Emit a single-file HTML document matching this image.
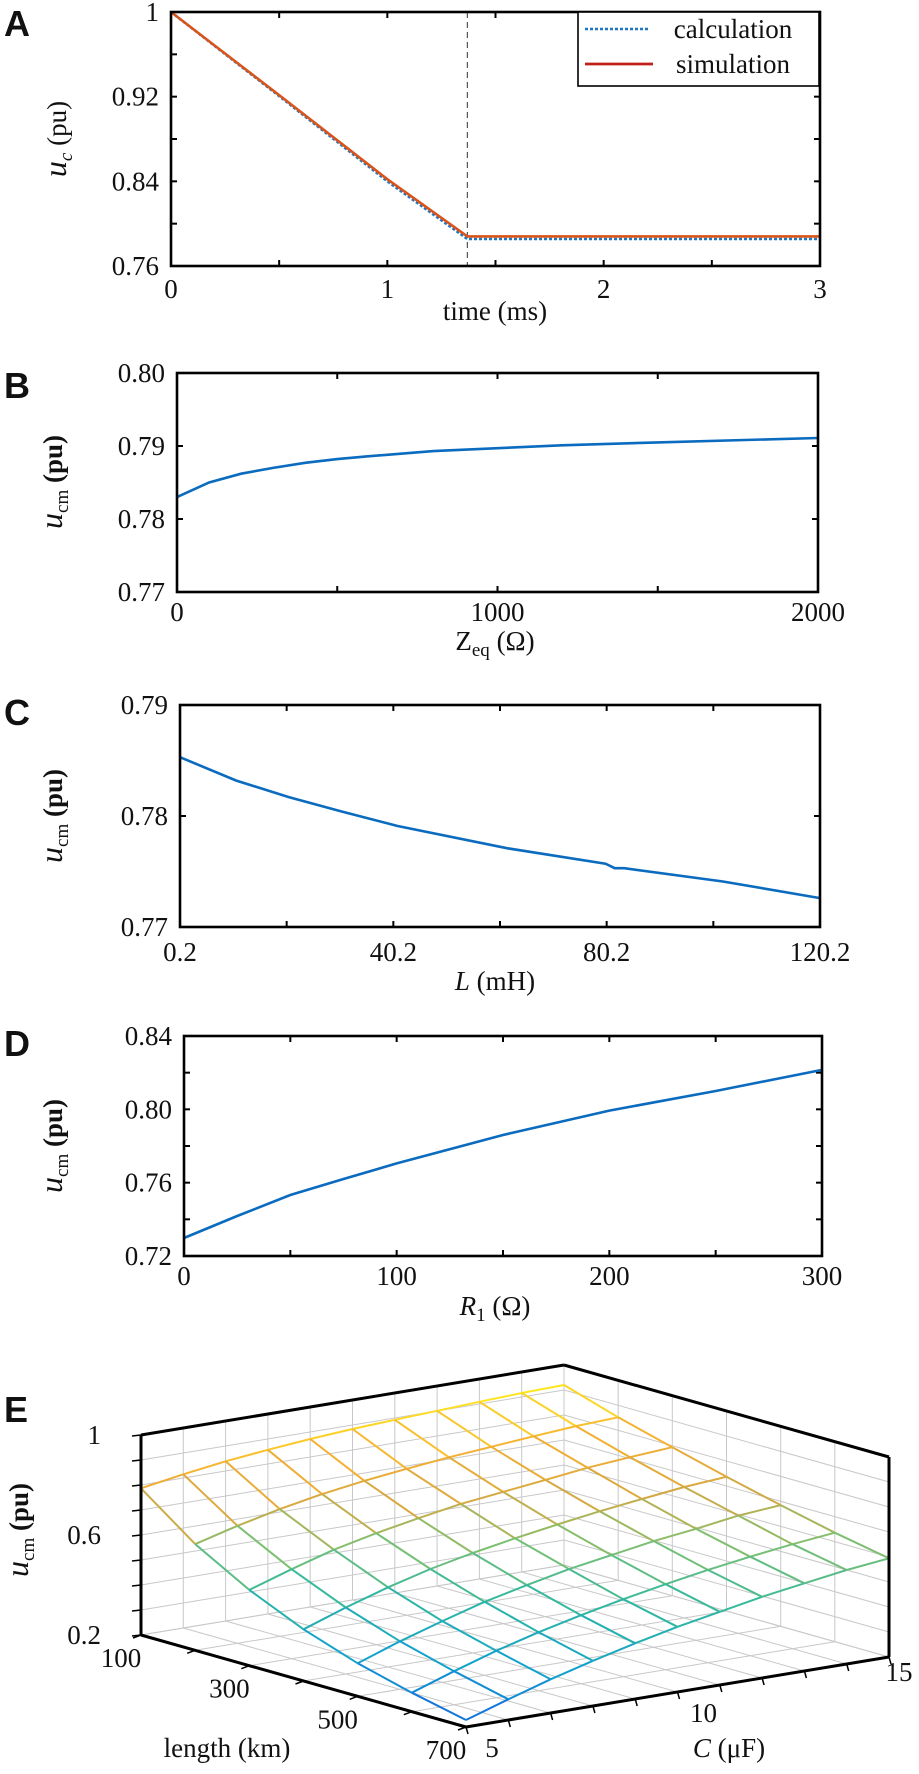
<!DOCTYPE html>
<html><head><meta charset="utf-8"><style>
body{margin:0;background:#fff}
svg text{font-family:"Liberation Serif",serif;fill:#111}
.pl{font-family:"Liberation Sans",sans-serif;font-weight:bold;font-size:36px}
</style></head><body>
<svg id="fig" width="919" height="1769" viewBox="0 0 919 1769" xmlns="http://www.w3.org/2000/svg"></svg>
<script>
// ---- Panel A data ----
const aTime=[0,0.5,1,1.37,3];
const aCalc=[1,0.9205,0.8400,0.7855,0.7855];
const aSim=[1,0.9215,0.8420,0.788,0.788];
const aXTicks=[0,1,2,3];
const aYTicks=[0.76,0.84,0.92,1];
// ---- Panel B data ----
const bX=[0,100,200,300,400,500,600,800,1000,1200,1500,2000];
const bY=[0.783,0.785,0.7862,0.787,0.7877,0.7882,0.7886,0.7893,0.7897,0.7901,0.7905,0.7911];
const bXTicks=[0,1000,2000];
const bYTicks=[0.77,0.78,0.79,0.80];
// ---- Panel C data ----
const cX=[0.2,10.7,20.6,30.6,41.0,61.5,80.0,81.7,83.5,102,120.2];
const cY=[0.7853,0.7832,0.7817,0.7804,0.7791,0.7771,0.7757,0.7753,0.7753,0.7741,0.7726];
const cXTicks=[0.2,40.2,80.2,120.2];
const cYTicks=[0.77,0.78,0.79];
// ---- Panel D data ----
const dX=[0,25,50,75,100,150,200,250,300];
const dY=[0.7298,0.7418,0.7533,0.762,0.7705,0.786,0.7993,0.810,0.8215];
const dXTicks=[0,100,200,300];
const dYTicks=[0.72,0.76,0.80,0.84];
// ---- Panel E data ----
const eLength=[100,200,300,400,500,600,700];
const eC=[5,6,7,8,9,10,11,12,13,14,15];
const eZ=[
[.787,.815,.839,.857,.872,.884,.893,.901,.909,.916,.920],
[.625,.670,.709,.741,.766,.786,.804,.818,.832,.845,.852],
[.503,.558,.608,.646,.678,.707,.727,.747,.768,.782,.794],
[.407,.466,.519,.564,.600,.631,.658,.683,.704,.724,.737],
[.332,.392,.445,.494,.533,.569,.597,.625,.646,.671,.685],
[.276,.334,.388,.434,.474,.510,.542,.571,.596,.618,.636],
[.228,.283,.335,.381,.423,.461,.493,.525,.551,.576,.595]];
const eZTicks=[0.2,0.6,1];
const eLTicks=[100,300,500,700];
const eCTicks=[5,10,15];

const NS="http://www.w3.org/2000/svg";
const svg=document.getElementById('fig');
function mk(tag,attrs,parent){const e=document.createElementNS(NS,tag);for(const k in attrs)e.setAttribute(k,attrs[k]);(parent||svg).appendChild(e);return e;}
function txt(s,x,y,size,anchor,parent){const t=mk('text',{x:x,y:y,'font-size':size,'text-anchor':anchor||'middle'},parent);t.textContent=s;return t;}
function lin(d0,d1,r0,r1){return v=>r0+(v-d0)/(d1-d0)*(r1-r0);}

function panel(opt){
  const g=mk('g',{});
  
  
  const X=lin(opt.xd[0],opt.xd[1],opt.L,opt.R), Y=lin(opt.yd[0],opt.yd[1],opt.B,opt.T);
  opt.xt.forEach(v=>{const x=X(v);mk('line',{x1:x,x2:x,y1:opt.B,y2:opt.B-6,stroke:'#000','stroke-width':2},g);mk('line',{x1:x,x2:x,y1:opt.T,y2:opt.T+6,stroke:'#000','stroke-width':2},g);});
  opt.yt.forEach(v=>{const y=Y(v);mk('line',{x1:opt.L,x2:opt.L+6,y1:y,y2:y,stroke:'#000','stroke-width':2},g);mk('line',{x1:opt.R,x2:opt.R-6,y1:y,y2:y,stroke:'#000','stroke-width':2},g);});
  opt.xl.forEach((v,i)=>{const t=txt(opt.xls?opt.xls[i]:String(v),X(v),opt.xly,27,'middle',g);});
  opt.yl.forEach((v,i)=>{const t=txt(opt.yls[i],opt.L-12,Y(v)+9,27,'end',g);});
  return {g,X,Y};
}
function path(X,Y,xs,ys){return xs.map((x,i)=>(i?'L':'M')+X(x).toFixed(1)+','+Y(ys[i]).toFixed(1)).join('');}
function box(g,o){const r=mk('rect',{x:o.L,y:o.T,width:o.R-o.L,height:o.B-o.T,fill:'none',stroke:'#000','stroke-width':2.6},g);}
function ytitle(g,main,sub,cx,cy,bold){const t=mk('text',{transform:`translate(${cx},${cy}) rotate(-90)`,'text-anchor':'middle','font-size':27},g);
  
  t.innerHTML=`<tspan font-style="italic" font-size="32">u</tspan><tspan font-size="19" dy="6"${sub=='c'?' font-style="italic"':''}>${sub}</tspan><tspan dy="-6"${bold?' font-weight="bold"':''}> (pu)</tspan>`;}
function plabel(s,x,y){const t=mk('text',{x:x,y:y,class:'pl'});t.textContent=s;}

// ---- A ----
{const o={name:'panel-a',L:171,R:820,T:12,B:266,xd:[0,3],yd:[0.76,1],xt:[0.5,1,1.5,2,2.5],yt:[0.8,0.84,0.88,0.92,0.96],xl:aXTicks,yl:aYTicks,yls:['0.76','0.84','0.92','1'],xly:298};
 const p=panel(o);
 const dl=mk('line',{x1:p.X(1.37),x2:p.X(1.37),y1:o.T,y2:o.B,stroke:'#555','stroke-width':1.2,'stroke-dasharray':'6,4'},p.g);
 
 const c=mk('path',{d:path(p.X,p.Y,aTime,aCalc),fill:'none',stroke:'#1f77c4','stroke-width':2.6,'stroke-dasharray':'3,2'},p.g);
 
 const s=mk('path',{d:path(p.X,p.Y,aTime,aSim),fill:'none',stroke:'#d9541a','stroke-width':2.6},p.g);
 
 box(p.g,o);
 const lg=mk('g',{},p.g);
 mk('rect',{x:578,y:12,width:241,height:74,fill:'#fff',stroke:'#000','stroke-width':1.6},lg);
 mk('line',{x1:585,x2:648,y1:29,y2:29,stroke:'#1f77c4','stroke-width':2.6,'stroke-dasharray':'3,2'},lg);
 mk('line',{x1:585,x2:653,y1:64,y2:64,stroke:'#c0201a','stroke-width':2.8},lg);
 txt('calculation',733,38,27,'middle',lg);txt('simulation',733,73,27,'middle',lg);
 ytitle(p.g,'u','c',66,139,false);
 const xt=txt('time (ms)',495,320,27,'middle',p.g);
 plabel('A',4,36);}
// ---- B ----
{const o={name:'panel-b',L:177,R:818,T:373,B:592,xd:[0,2000],yd:[0.77,0.80],xt:[500,1000,1500],yt:[0.78,0.79],xl:bXTicks,yl:bYTicks,yls:['0.77','0.78','0.79','0.80'],xly:621};
 const p=panel(o);
 const l=mk('path',{d:path(p.X,p.Y,bX,bY),fill:'none',stroke:'#0b6bbf','stroke-width':2.6},p.g);
 box(p.g,o);ytitle(p.g,'u','cm',62,482,true);
 const t=mk('text',{x:495,y:650,'text-anchor':'middle','font-size':27},p.g);
 t.innerHTML='Z<tspan font-size="19" dy="6">eq</tspan><tspan dy="-6"> (Ω)</tspan>';
 plabel('B',4,398);}
// ---- C ----
{const o={name:'panel-c',L:180,R:820,T:705,B:927,xd:[0.2,120.2],yd:[0.77,0.79],xt:[20.2,40.2,60.2,80.2,100.2],yt:[0.78],xl:cXTicks,xls:['0.2','40.2','80.2','120.2'],yl:cYTicks,yls:['0.77','0.78','0.79'],xly:961};
 const p=panel(o);
 const l=mk('path',{d:path(p.X,p.Y,cX,cY),fill:'none',stroke:'#0b6bbf','stroke-width':2.6},p.g);
 box(p.g,o);ytitle(p.g,'u','cm',62,816,true);
 const t=mk('text',{x:495,y:990,'text-anchor':'middle','font-size':27},p.g);
 t.innerHTML='<tspan font-style="italic">L</tspan> (mH)';
 plabel('C',4,725);}
// ---- D ----
{const o={name:'panel-d',L:184,R:822,T:1036,B:1256,xd:[0,300],yd:[0.72,0.84],xt:[50,100,150,200,250],yt:[0.74,0.76,0.78,0.80,0.82],xl:dXTicks,yl:dYTicks,yls:['0.72','0.76','0.80','0.84'],xly:1285};
 const p=panel(o);
 const l=mk('path',{d:path(p.X,p.Y,dX,dY),fill:'none',stroke:'#0b6bbf','stroke-width':2.6},p.g);
 box(p.g,o);ytitle(p.g,'u','cm',62,1146,true);
 const t=mk('text',{x:495,y:1315,'text-anchor':'middle','font-size':27},p.g);
 t.innerHTML='<tspan font-style="italic">R</tspan><tspan font-size="19" dy="6">1</tspan><tspan dy="-6"> (Ω)</tspan>';
 plabel('D',4,1056);}
// ---- E (3D surface) ----
{const g=mk('g',{});
 const P0=[141,1635],LV=[325,92],CV=[423,-70],ZS=250;
 function P(L,C,z){const a=(L-100)/600,b=(C-5)/10;return [P0[0]+a*LV[0]+b*CV[0],P0[1]+a*LV[1]+b*CV[1]-(z-0.2)*ZS];}
 function seg(p,q,col,w,par){return mk('line',{x1:p[0].toFixed(1),y1:p[1].toFixed(1),x2:q[0].toFixed(1),y2:q[1].toFixed(1),stroke:col,'stroke-width':w},par||g);}
 const gr=mk('g',{},g);
 for(let z=0.2;z<=1.0001;z+=0.1){seg(P(100,5,z),P(100,15,z),'#c8c8c8',1,gr);seg(P(100,15,z),P(700,15,z),'#c8c8c8',1,gr);}
 for(let c=5;c<=15;c++){seg(P(100,c,0.2),P(100,c,1),'#c8c8c8',1,gr);seg(P(100,c,0.2),P(700,c,0.2),'#c8c8c8',1,gr);}
 for(let L=100;L<=700;L+=100){seg(P(L,15,0.2),P(L,15,1),'#c8c8c8',1,gr);seg(P(L,5,0.2),P(L,15,0.2),'#c8c8c8',1,gr);}
 const stops=[[0.2,[21,96,224]],[0.35,[16,160,208]],[0.5,[48,184,160]],[0.62,[128,192,112]],[0.72,[216,168,64]],[0.82,[245,176,48]],[0.92,[255,232,32]]];
 function col(z){if(z<=stops[0][0])return 'rgb('+stops[0][1]+')';for(let i=1;i<stops.length;i++){if(z<=stops[i][0]){const t=(z-stops[i-1][0])/(stops[i][0]-stops[i-1][0]);const a=stops[i-1][1],b=stops[i][1];return `rgb(${a.map((v,k)=>Math.round(v+(b[k]-v)*t))})`;}}return 'rgb('+stops[stops.length-1][1]+')';}
 const sg=mk('g',{},g);
 for(let j=0;j<eLength.length;j++)for(let i=0;i<eC.length;i++){
   if(i+1<eC.length){const z=(eZ[j][i]+eZ[j][i+1])/2;const s=seg(P(eLength[j],eC[i],eZ[j][i]),P(eLength[j],eC[i+1],eZ[j][i+1]),col(z),2,sg);}
   if(j+1<eLength.length){const z=(eZ[j][i]+eZ[j+1][i])/2;const s=seg(P(eLength[j],eC[i],eZ[j][i]),P(eLength[j+1],eC[i],eZ[j+1][i]),col(z),2,sg);}
 }
 const ax=mk('g',{},g);
 seg(P(100,5,0.2),P(100,5,1),'#000',3,ax);seg(P(100,5,1),P(100,15,1),'#000',3,ax);seg(P(100,15,1),P(700,15,1),'#000',3,ax);
 seg(P(700,15,1),P(700,15,0.2),'#000',3,ax);seg(P(100,5,0.2),P(700,5,0.2),'#000',3,ax);seg(P(700,5,0.2),P(700,15,0.2),'#000',3,ax);
 for(let z=0.2;z<=1.0001;z+=0.1){const p=P(100,5,z);seg(p,[p[0]-9,p[1]+1],'#000',1.5,ax);}
 for(let L=100;L<=700;L+=100){const p=P(L,5,0.2);seg(p,[p[0]-8,p[1]+3],'#000',1.5,ax);}
 for(let c=5;c<=15;c++){const p=P(700,c,0.2);seg(p,[p[0]+2,p[1]+7],'#000',1.5,ax);}
 eZTicks.forEach(z=>{const p=P(100,5,z);const t=txt(String(z),p[0]-40,p[1]+9,27,'end',g);});
 eLTicks.forEach(L=>{const p=P(L,5,0.2);const t=txt(String(L),p[0]-20,p[1]+32,27,'middle',g);});
 eCTicks.forEach(c=>{const p=P(700,c,0.2);const t=txt(String(c),p[0]+(c==15?10:26),p[1]+(c==15?24:30),27,'middle',g);});
 const lt=txt('length (km)',227,1757,27,'middle',g);
 const ct=mk('text',{x:729,y:1757,'text-anchor':'middle','font-size':27},g);
 ct.innerHTML='<tspan font-style="italic">C</tspan> (μF)';
 ytitle(g,'u','cm',28,1530,true);
 plabel('E',4,1422);}
</script>
</body></html>
